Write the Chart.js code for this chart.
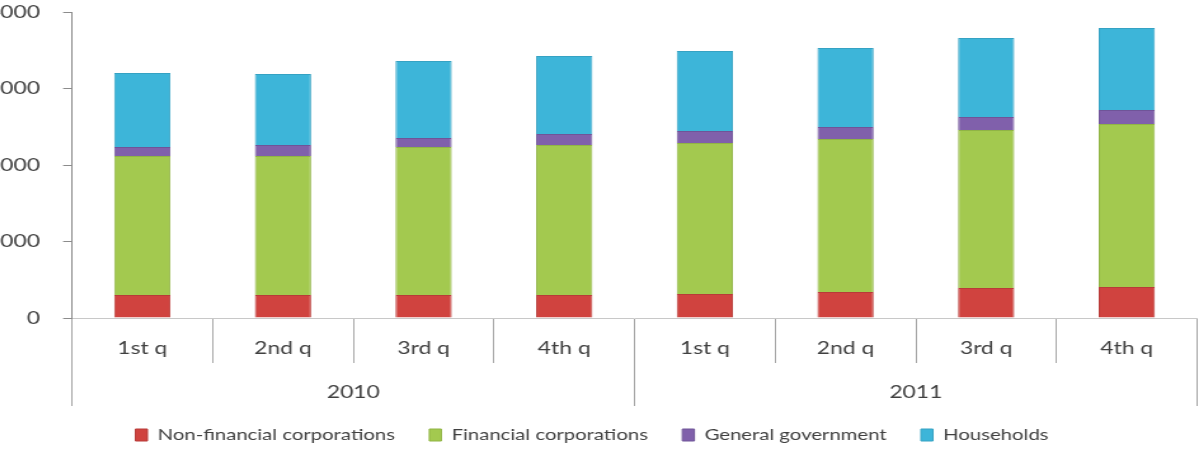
<!DOCTYPE html>
<html>
<head>
<meta charset="utf-8">
<script src="https://cdn.jsdelivr.net/npm/chart.js@4"></script>
<style>
  html, body { margin: 0; padding: 0; background: #fff; overflow: hidden; }
  #wrap { position: relative; width: 1204px; height: 449px; overflow: hidden; background: #fff; }
  /* the source image is stretched sideways, so stretch the canvas the same way */
  #chart { position: absolute; left: -24px; top: 0; transform: scaleX(1.27); transform-origin: 0 0; }
</style>
</head>
<body>
<div id="wrap"><canvas id="chart" width="967" height="449"></canvas></div>
<script>
const quarters = ['1st q', '2nd q', '3rd q', '4th q', '1st q', '2nd q', '3rd q', '4th q'];
const years = ['2010', '2011'];
const yTicks = [0, 1000, 2000, 3000, 4000];

const nonFinancial = [300, 300, 300, 300, 314, 340, 392, 405];
const financial = [1818, 1818, 1935, 1961, 1974, 2000, 2066, 2131];
const government = [117, 143, 118, 144, 156, 157, 170, 183];
const households = [968, 929, 1006, 1020, 1046, 1032, 1033, 1072];

const seriesNames = ['Non-financial corporations', 'Financial corporations', 'General government', 'Households'];
const seriesColors = ['#D0433F', '#A3C94F', '#8060AB', '#3DB5D9'];
const seriesBorders = ['#B83B38', '#90B445', '#6F5498', '#35A2C3'];

Chart.defaults.font.family = 'Lato';
Chart.defaults.color = '#404040';

function makeDataset(i, values) {
    return {
        label: seriesNames[i],
        data: values,
        backgroundColor: seriesColors[i],
        borderColor: seriesBorders[i],
        borderWidth: 1,
        categoryPercentage: 1,
        barPercentage: 0.4
    };
}

const ctx = document.getElementById('chart').getContext('2d');
const chart = new Chart(ctx, {
    type: 'bar',
    data: {
        labels: quarters,
        datasets: [
            makeDataset(0, nonFinancial),
            makeDataset(1, financial),
            makeDataset(2, government),
            makeDataset(3, households)
        ]
    },
    options: {
        responsive: false,
        animation: false,
        layout: {
            padding: { left: 8.5, right: 5.5, top: 12, bottom: 0 }
        },
        plugins: {
            tooltip: { enabled: false },
            legend: {
                position: 'bottom',
                maxHeight: 49,
                labels: {
                    boxWidth: 9.5,
                    boxHeight: 12,
                    padding: 27,
                    color: '#404040',
                    font: { size: 16 }
                }
            }
        },
        scales: {
            x: {
                stacked: true,
                offset: true,
                grid: { offset: true, drawOnChartArea: false, tickLength: 45, color: '#a6a6a6' },
                border: { color: '#c8c8c8' },
                ticks: { padding: -25.8, font: { size: 18 }, color: '#404040' },
                afterFit: function (scale) { scale.height = 45; }
            },
            x2: {
                type: 'category',
                labels: years,
                position: 'bottom',
                weight: 1,
                offset: true,
                grid: { offset: true, drawOnChartArea: false, tickLength: 43, color: '#a6a6a6' },
                border: { display: false },
                // mirrored so the year labels are not clipped to this short box
                ticks: { mirror: true, padding: -39.8, font: { size: 18 }, color: '#404040' },
                afterFit: function (scale) { scale.height = 37; }
            },
            y: {
                stacked: true,
                min: yTicks[0],
                max: yTicks[yTicks.length - 1],
                grid: { drawOnChartArea: false, tickLength: 7, color: '#8c8c8c' },
                border: { color: '#8c8c8c' },
                ticks: {
                    stepSize: 1000,
                    padding: 18.2,
                    font: { size: 18 },
                    color: '#404040',
                    callback: function (value) { return String(value); }
                },
                afterFit: function (scale) {
                    scale.width = 67.1;
                    // keep the big tick padding from pushing the plot top down
                    scale.paddingTop = 0;
                    scale.paddingBottom = 0;
                }
            }
        }
    }
});
</script>
</body>
</html>
